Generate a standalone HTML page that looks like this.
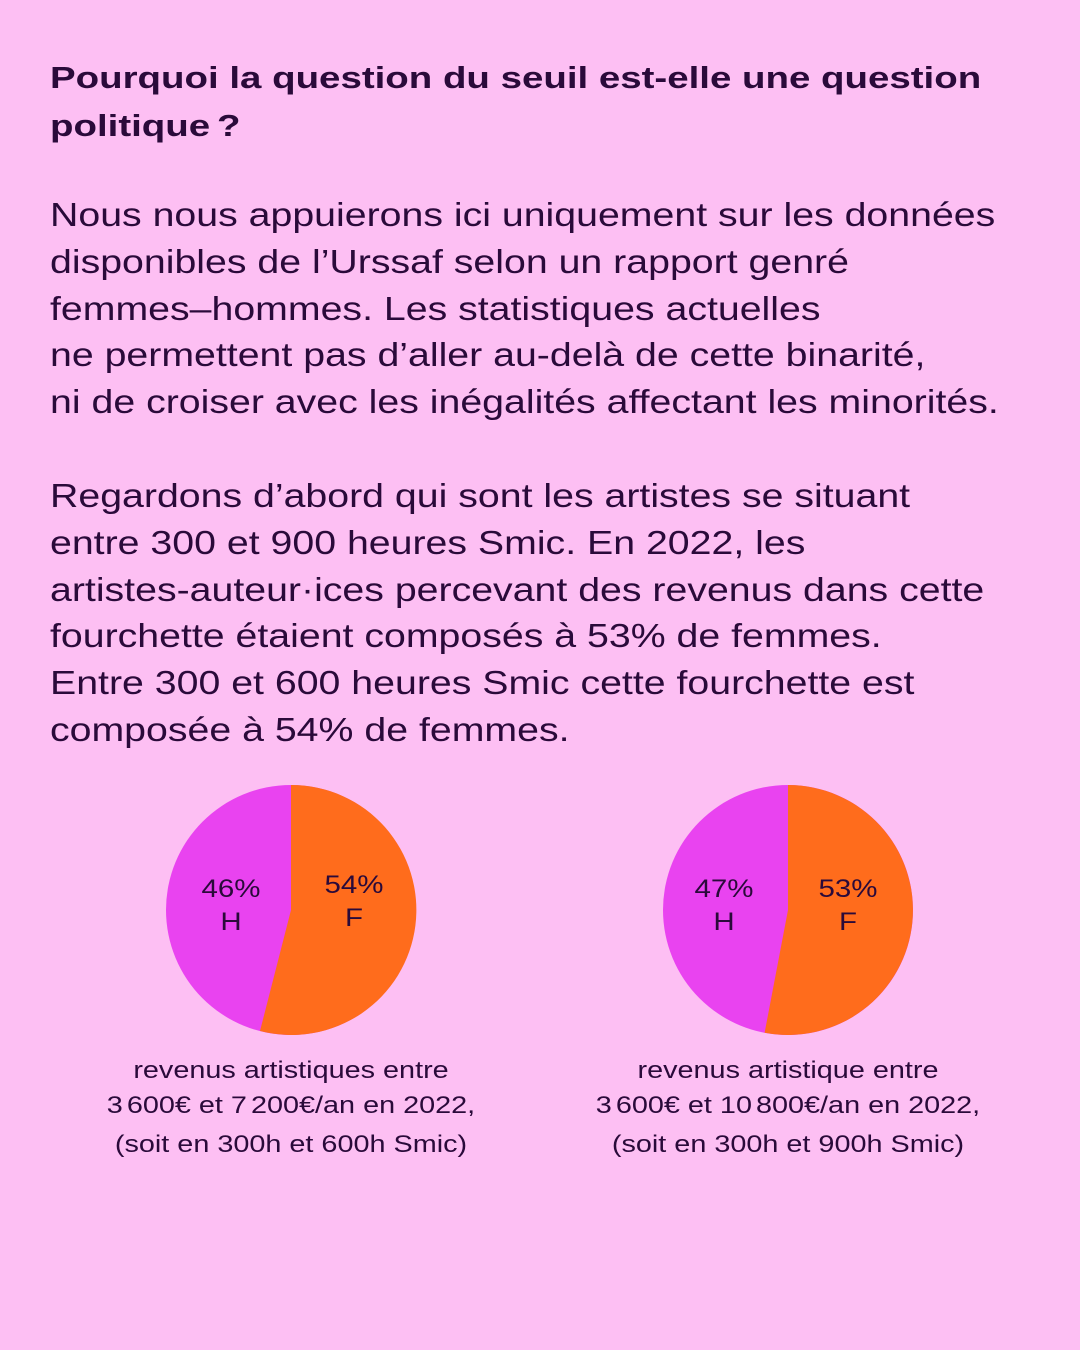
<!DOCTYPE html>
<html><head><meta charset="utf-8"><style>
body{margin:0;width:1080px;height:1350px;background:#FDBFF3;font-family:"Liberation Sans",Arial,sans-serif;color:#2A0A3A;position:relative;overflow:hidden}
.t{position:absolute;left:50px;white-space:nowrap;transform:scaleX(1.19);transform-origin:0 0}
h1{position:absolute;left:50px;top:54px;margin:0;font-size:31px;line-height:48px;font-weight:bold;white-space:nowrap;transform:scaleX(1.24);transform-origin:0 0}
.p{font-size:33px;line-height:46.8px}
.cap{position:absolute;width:500px;text-align:center;font-size:24px;line-height:35px;transform:scaleX(1.2);white-space:nowrap}
</style></head><body>
<h1>Pourquoi la question du seuil est-elle une question<br>politique<span style="font-size:20px"> </span>?</h1>
<div class="t p" style="top:192px">Nous nous appuierons ici uniquement sur les données<br>disponibles de l’Urssaf selon un rapport genré<br>femmes–hommes. Les statistiques actuelles<br>ne permettent pas d’aller au-delà de cette binarité,<br>ni de croiser avec les inégalités affectant les minorités.</div>
<div class="t p" style="top:473px">Regardons d’abord qui sont les artistes se situant<br>entre 300 et 900 heures Smic. En 2022, les<br>artistes-auteur·ices percevant des revenus dans cette<br>fourchette étaient composés à 53% de femmes.<br>Entre 300 et 600 heures Smic cette fourchette est<br>composée à 54% de femmes.</div>
<svg width="1080" height="1350" style="position:absolute;left:0;top:0" font-family="Liberation Sans, Arial, sans-serif" font-size="25" fill="#2A0A3A">
<circle cx="291" cy="910" r="125" fill="#E943F0"/>
<path d="M291 910 L291 785 A125 125 0 1 1 260 1031 Z" fill="#FF6C1C"/>
<circle cx="788" cy="910" r="125" fill="#E943F0"/>
<path d="M788 910 L788 785 A125 125 0 1 1 764.6 1032.8 Z" fill="#FF6C1C"/>
<g text-anchor="middle" fill="#2A0A3A">
<g transform="translate(231 0) scale(1.18 1) translate(-231 0)"><text x="231" y="897">46%</text><text x="231" y="930">H</text></g>
<g transform="translate(354 0) scale(1.18 1) translate(-354 0)"><text x="354" y="893">54%</text><text x="354" y="926">F</text></g>
<g transform="translate(724 0) scale(1.18 1) translate(-724 0)"><text x="724" y="897">47%</text><text x="724" y="930">H</text></g>
<g transform="translate(848 0) scale(1.18 1) translate(-848 0)"><text x="848" y="897">53%</text><text x="848" y="930">F</text></g>
</g>
</svg>
<div class="cap" style="left:41px;top:1053px">revenus artistiques entre<br>3<span style="font-size:12px"> </span>600€ et 7<span style="font-size:12px"> </span>200€/an en 2022,<br>(soit en 300h et 600h Smic)</div>
<div class="cap" style="left:538px;top:1053px">revenus artistique entre<br>3<span style="font-size:12px"> </span>600€ et 10<span style="font-size:12px"> </span>800€/an en 2022,<br>(soit en 300h et 900h Smic)</div>
</body></html>
